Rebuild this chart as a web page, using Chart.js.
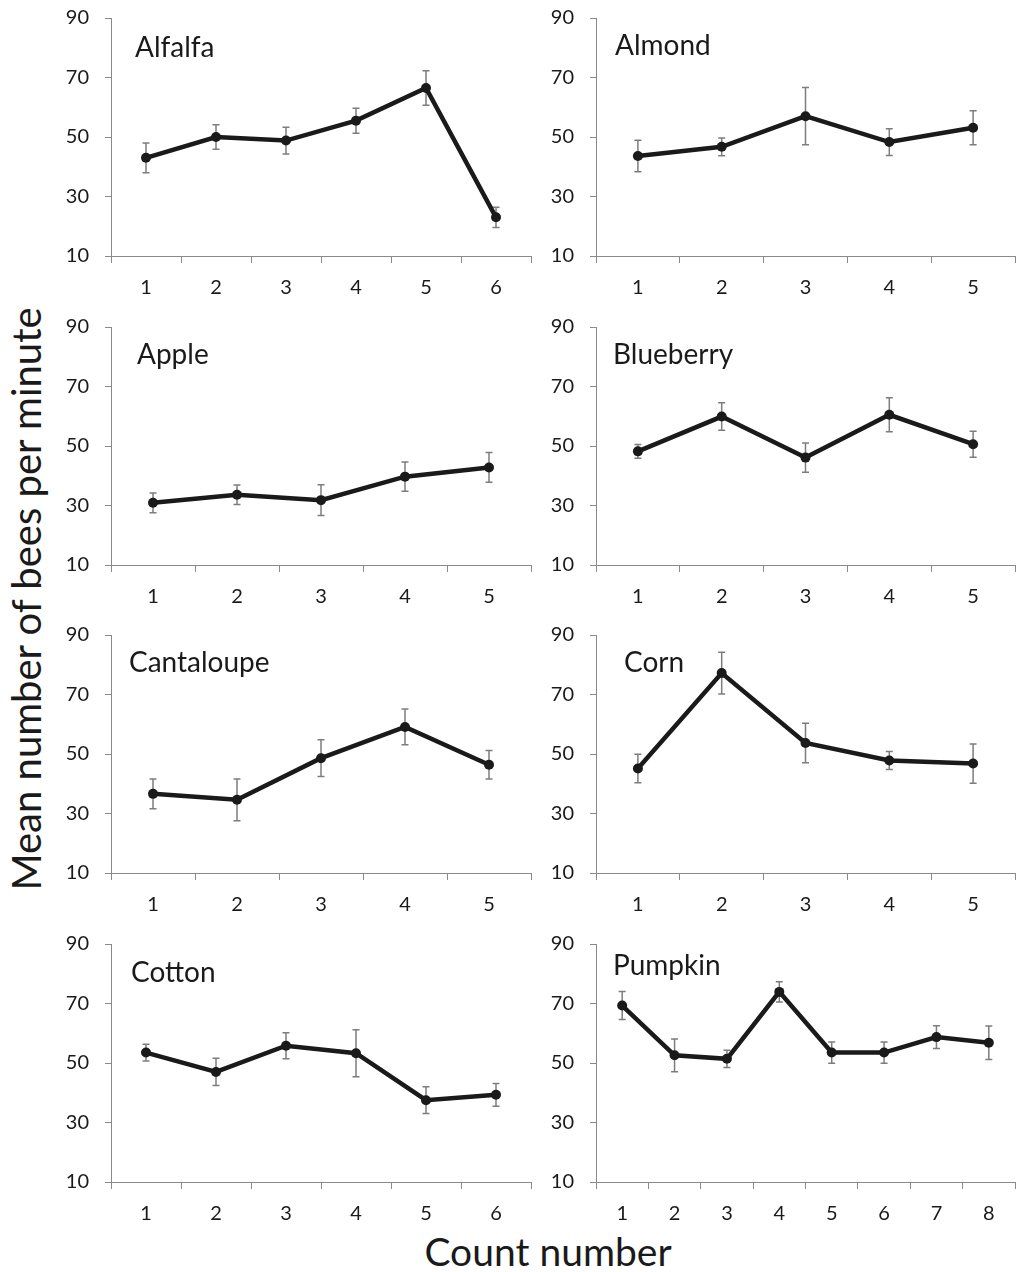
<!DOCTYPE html>
<html>
<head>
<meta charset="utf-8">
<script src="https://cdn.jsdelivr.net/npm/chart.js@4.4.1/dist/chart.umd.min.js"></script>
<style>
  html, body { margin: 0; padding: 0; background: #ffffff; }
  body { width: 1020px; height: 1272px; position: relative; overflow: hidden; font-family: Lato, "Open Sans", sans-serif; color: #1a1a1a; }
  canvas { position: absolute; }
  .axis-title { position: absolute; line-height: 1; white-space: nowrap; color: #1a1a1a; }
  #ytitle { left: 26px; top: 599px; font-size: 40px; transform: translate(-50%, -50%) rotate(-90deg); }
  #xtitle { left: 548px; top: 1232px; font-size: 39px; transform: translateX(-50%); }
</style>
</head>
<body>
<div class="axis-title" id="ytitle">Mean number of bees per minute</div>
<div class="axis-title" id="xtitle">Count number</div>
<script>
// Mean bees per minute at each count, with error bar half-widths
const alfalfaMean    = [43.0, 50.0, 48.8, 55.5, 66.5, 23.0];
const alfalfaErr     = [5.0, 4.1, 4.5, 4.2, 5.8, 3.4];
const almondMean     = [43.6, 46.7, 57.0, 48.3, 53.1];
const almondErr      = [5.3, 3.0, 9.6, 4.5, 5.7];
const appleMean      = [30.9, 33.6, 31.8, 39.7, 42.8];
const appleErr       = [3.3, 3.3, 5.2, 4.9, 5.0];
const blueberryMean  = [48.2, 59.9, 46.1, 60.5, 50.6];
const blueberryErr   = [2.3, 4.6, 4.9, 5.7, 4.4];
const cantaloupeMean = [36.6, 34.6, 48.6, 59.1, 46.4];
const cantaloupeErr  = [5.0, 7.0, 6.2, 6.0, 4.8];
const cornMean       = [45.1, 77.2, 53.7, 47.8, 46.8];
const cornErr        = [4.8, 7.0, 6.6, 3.0, 6.6];
const cottonMean     = [53.5, 47.0, 55.8, 53.3, 37.5, 39.3];
const cottonErr      = [2.8, 4.6, 4.4, 7.9, 4.5, 3.8];
const pumpkinMean    = [69.3, 52.6, 51.4, 73.9, 53.5, 53.5, 58.7, 56.8];
const pumpkinErr     = [4.7, 5.5, 2.9, 3.4, 3.6, 3.6, 3.8, 5.6];

const countLabels6 = ['1', '2', '3', '4', '5', '6'];
const countLabels5 = ['1', '2', '3', '4', '5'];
const countLabels8 = ['1', '2', '3', '4', '5', '6', '7', '8'];
const yTicks = [10, 30, 50, 70, 90];

const cropNames = ['Alfalfa', 'Almond', 'Apple', 'Blueberry', 'Cantaloupe', 'Corn', 'Cotton', 'Pumpkin'];

// Panel placement: [column, row], name offset inside the plot area
const panels = [
  { name: cropNames[0], labels: countLabels6, mean: alfalfaMean,    err: alfalfaErr,    col: 0, row: 0, nx: 24, ny: 39 },
  { name: cropNames[1], labels: countLabels5, mean: almondMean,     err: almondErr,     col: 1, row: 0, nx: 19, ny: 37 },
  { name: cropNames[2], labels: countLabels5, mean: appleMean,      err: appleErr,      col: 0, row: 1, nx: 26, ny: 37 },
  { name: cropNames[3], labels: countLabels5, mean: blueberryMean,  err: blueberryErr,  col: 1, row: 1, nx: 17, ny: 37 },
  { name: cropNames[4], labels: countLabels5, mean: cantaloupeMean, err: cantaloupeErr, col: 0, row: 2, nx: 18, ny: 37 },
  { name: cropNames[5], labels: countLabels5, mean: cornMean,       err: cornErr,       col: 1, row: 2, nx: 28, ny: 37 },
  { name: cropNames[6], labels: countLabels6, mean: cottonMean,     err: cottonErr,     col: 0, row: 3, nx: 20, ny: 38 },
  { name: cropNames[7], labels: countLabels8, mean: pumpkinMean,    err: pumpkinErr,    col: 1, row: 3, nx: 17, ny: 31 }
];

const colLeft = [50, 536];
const colWidth = [486, 484];
const yAxisWidth = [61, 60];
const rowTop = [-10, 299, 607, 916];
const canvasHeight = 316;
const xAxisHeight = 50;
const axisGray = '#8a8a8a';
const inkColor = '#1a1a1a';
const tickFont = { family: 'Lato, "Open Sans", sans-serif', size: 20 };

// Vertical error bars with short caps, drawn underneath the line
const errorBarPlugin = {
  id: 'errorBars',
  beforeDatasetsDraw(chart) {
    const ctx = chart.ctx;
    const yScale = chart.scales.y;
    chart.data.datasets.forEach((ds, i) => {
      const meta = chart.getDatasetMeta(i);
      const errs = ds.errors || [];
      ctx.save();
      ctx.strokeStyle = '#7d7d7d';
      ctx.lineWidth = 1.5;
      meta.data.forEach((pt, j) => {
        const v = ds.data[j];
        const e = errs[j];
        if (v == null || e == null) return;
        const top = yScale.getPixelForValue(v + e);
        const bot = yScale.getPixelForValue(v - e);
        const x = pt.x;
        const cap = 3.5;
        ctx.beginPath();
        ctx.moveTo(x, top); ctx.lineTo(x, bot);
        ctx.moveTo(x - cap, top); ctx.lineTo(x + cap, top);
        ctx.moveTo(x - cap, bot); ctx.lineTo(x + cap, bot);
        ctx.stroke();
      });
      ctx.restore();
    });
  }
};

// Crop name in the upper-left corner of each plot
const panelNamePlugin = {
  id: 'panelName',
  afterDraw(chart, args, opts) {
    const ctx = chart.ctx;
    const area = chart.chartArea;
    ctx.save();
    ctx.fillStyle = inkColor;
    ctx.font = '28px Lato, "Open Sans", sans-serif';
    ctx.textBaseline = 'alphabetic';
    ctx.textAlign = 'left';
    ctx.fillText(opts.text, area.left + opts.dx, area.top + opts.dy);
    ctx.restore();
  }
};

panels.forEach(p => {
  const canvas = document.createElement('canvas');
  const w = colWidth[p.col];
  canvas.width = w;
  canvas.height = canvasHeight;
  canvas.style.left = colLeft[p.col] + 'px';
  canvas.style.top = rowTop[p.row] + 'px';
  canvas.style.width = w + 'px';
  canvas.style.height = canvasHeight + 'px';
  document.body.appendChild(canvas);

  const yw = yAxisWidth[p.col];

  new Chart(canvas, {
    type: 'line',
    data: {
      labels: p.labels,
      datasets: [{
        data: p.mean,
        errors: p.err,
        borderColor: inkColor,
        borderWidth: 4.5,
        pointRadius: 5,
        pointBackgroundColor: inkColor,
        pointBorderColor: inkColor,
        pointBorderWidth: 0,
        tension: 0,
        fill: false
      }]
    },
    options: {
      responsive: false,
      animation: false,
      devicePixelRatio: 1,
      layout: { padding: { top: 10, right: 3, left: 0, bottom: 0 } },
      plugins: {
        legend: { display: false },
        tooltip: { enabled: false },
        panelName: { text: p.name, dx: p.nx, dy: p.ny }
      },
      scales: {
        x: {
          type: 'category',
          offset: true,
          grid: { offset: true, drawOnChartArea: false, drawTicks: true, tickLength: 7, color: axisGray, lineWidth: 1 },
          border: { color: axisGray, width: 1 },
          ticks: { font: tickFont, color: inkColor, padding: 13, maxRotation: 0, autoSkip: false },
          afterFit: s => { s.height = xAxisHeight; }
        },
        y: {
          min: 10,
          max: 90,
          afterBuildTicks: s => { s.ticks = yTicks.map(v => ({ value: v })); },
          grid: { drawOnChartArea: false, drawTicks: true, tickLength: 6, color: axisGray, lineWidth: 1 },
          border: { color: axisGray, width: 1 },
          ticks: { font: tickFont, color: inkColor, padding: 16 },
          afterFit: s => { s.width = yw; }
        }
      }
    },
    plugins: [errorBarPlugin, panelNamePlugin]
  });
});
</script>
</body>
</html>
